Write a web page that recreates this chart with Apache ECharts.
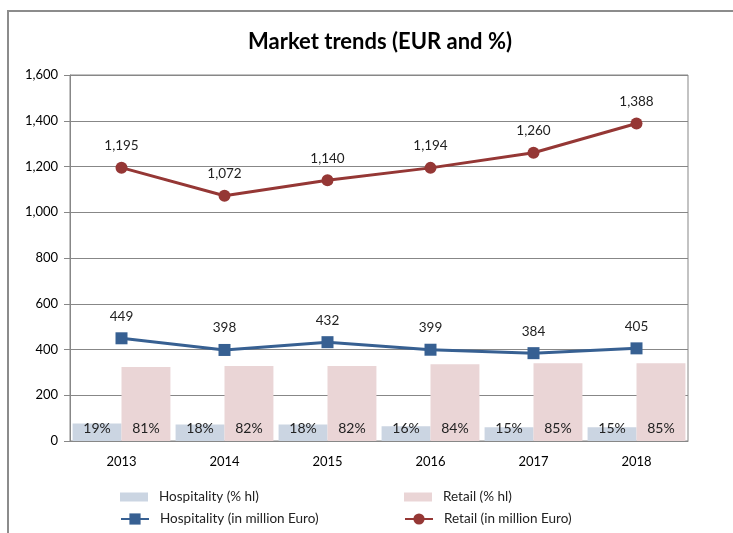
<!DOCTYPE html>
<html>
<head>
<meta charset="utf-8">
<script src="https://cdn.jsdelivr.net/npm/echarts@6/dist/echarts.min.js"></script>
<style>
  html, body { margin: 0; padding: 0; background: #fff; }
  #chart { width: 733px; height: 533px; }
</style>
</head>
<body>
<div id="chart"></div>
<script>
var years = ['2013', '2014', '2015', '2016', '2017', '2018'];
var hospShare = [19, 18, 18, 16, 15, 15];      // % hl
var retailShare = [81, 82, 82, 84, 85, 85];    // % hl
var hospEuro = [449, 398, 432, 399, 384, 405]; // million Euro
var retailEuro = [1195, 1072, 1140, 1194, 1260, 1388];
var yTicks = [0, 200, 400, 600, 800, 1000, 1200, 1400, 1600];

var myChart = echarts.init(document.getElementById('chart'));
var font = 'Lato, "Open Sans", sans-serif';
var grey = '#878787';

function fmt(v) {
    return echarts.format.addCommas(v);
}

// one legend per entry so bar swatches and line icons can have their own sizes
function legendItem(name, left, top, h) {
    return {
        left: left,
        top: top,
        itemWidth: 28,
        itemHeight: h,
        textStyle: { fontSize: 13.5, color: '#222', padding: [0, 0, 0, 6] },
        data: [{ name: name, icon: h < 12 ? 'rect' : undefined }]
    };
}

var option = {
    animation: false,
    textStyle: { fontFamily: font },
    title: {
        text: 'Market trends (EUR and %)',
        left: 375,
        textAlign: 'center',
        top: 26,
        textStyle: { fontSize: 22, fontWeight: 'bold', color: '#000', fontFamily: font }
    },
    graphic: [{
        type: 'rect',
        shape: { x: 8, y: 11, width: 900, height: 700 },
        style: { fill: 'none', stroke: '#8c8c8c', lineWidth: 2 },
        silent: true
    }],
    legend: [
        legendItem('Hospitality (% hl)', 115, 485, 9),
        legendItem('Retail (% hl)', 399, 485, 9),
        legendItem('Hospitality (in million Euro)', 115, 507, 14),
        legendItem('Retail (in million Euro)', 399, 507, 14)
    ],
    grid: {
        left: 70, right: 45, top: 75, bottom: 92,
        show: true, borderColor: grey, borderWidth: 1
    },
    xAxis: {
        type: 'category',
        data: years,
        axisLine: { lineStyle: { color: grey } },
        axisTick: { length: 6, lineStyle: { color: grey } },
        axisLabel: { color: '#000', fontSize: 13, margin: 14 }
    },
    yAxis: [{
        type: 'value',
        min: yTicks[0],
        max: yTicks[yTicks.length - 1],
        interval: 200,
        axisLine: { show: true, lineStyle: { color: grey } },
        axisTick: { show: true, length: 6, lineStyle: { color: grey } },
        splitLine: { lineStyle: { color: grey } },
        axisLabel: { color: '#000', fontSize: 13, margin: 12, formatter: fmt }
    }, {
        type: 'value',
        min: 0,
        max: 400,
        show: false,
        splitLine: { show: false }
    }],
    series: [{
        name: 'Hospitality (% hl)',
        type: 'bar',
        yAxisIndex: 1,
        data: hospShare,
        barGap: '0%',
        barCategoryGap: '5%',
        itemStyle: { color: '#CBD5E2' },
        label: {
            show: true, position: 'insideBottom', distance: 6,
            color: '#222', fontSize: 14, formatter: '{c}%'
        }
    }, {
        name: 'Retail (% hl)',
        type: 'bar',
        yAxisIndex: 1,
        data: retailShare,
        itemStyle: { color: '#EAD5D6' },
        label: {
            show: true, position: 'insideBottom', distance: 6,
            color: '#222', fontSize: 14, formatter: '{c}%'
        }
    }, {
        name: 'Hospitality (in million Euro)',
        type: 'line',
        data: hospEuro,
        symbol: 'rect',
        symbolSize: 12,
        z: 5,
        lineStyle: { color: '#376092', width: 3 },
        itemStyle: { color: '#376092' },
        label: {
            show: true, position: 'top', distance: 9,
            color: '#222', fontSize: 13.5,
            formatter: function (p) { return fmt(p.value); }
        }
    }, {
        name: 'Retail (in million Euro)',
        type: 'line',
        data: retailEuro,
        symbol: 'circle',
        symbolSize: 12,
        z: 5,
        lineStyle: { color: '#953735', width: 3 },
        itemStyle: { color: '#953735' },
        label: {
            show: true, position: 'top', distance: 9,
            color: '#222', fontSize: 13.5,
            formatter: function (p) { return fmt(p.value); }
        }
    }]
};

myChart.setOption(option);
</script>
</body>
</html>
